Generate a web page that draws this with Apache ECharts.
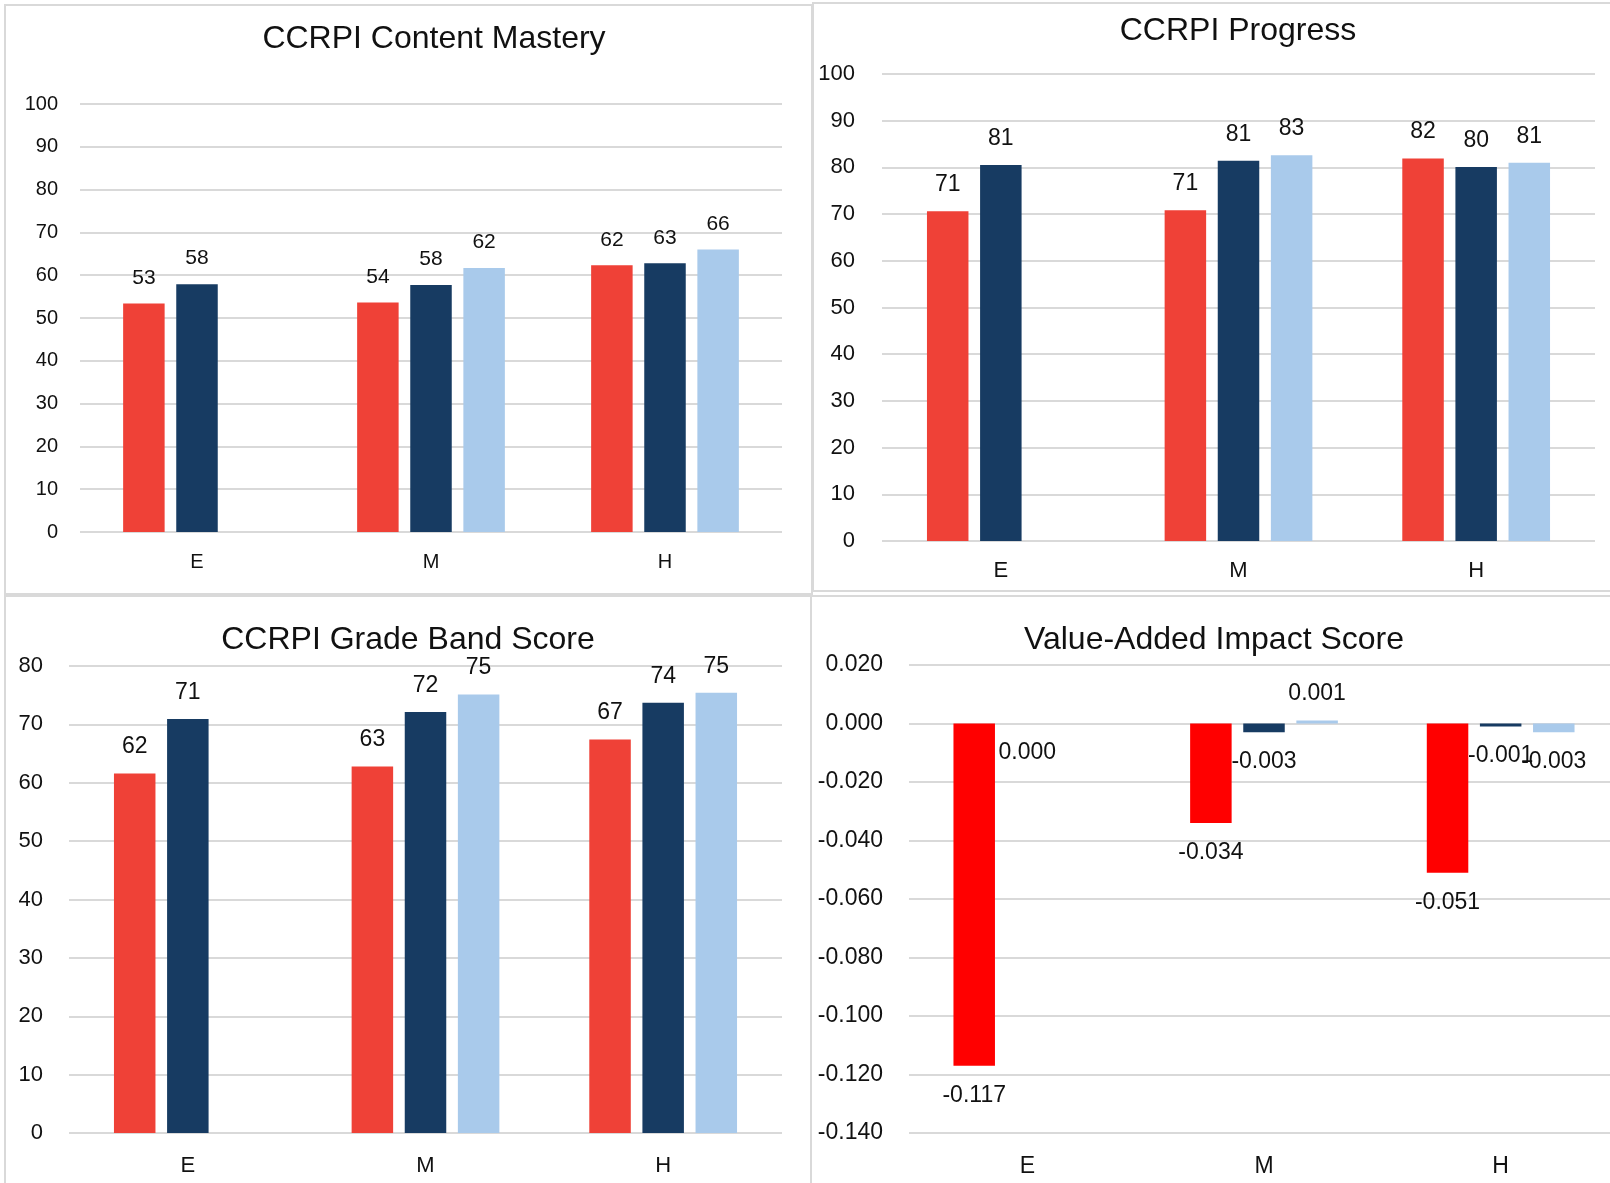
<!DOCTYPE html>
<html>
<head>
<meta charset="utf-8">
<script src="https://cdn.jsdelivr.net/npm/echarts@6/dist/echarts.min.js"></script>
<style>
  html, body { margin: 0; padding: 0; background: #fff; }
  #chart { width: 1610px; height: 1183px; }
</style>
</head>
<body>
<div id="chart"></div>
<script>
// categories shared by all four panels
const categories = ['E', 'M', 'H']

// CCRPI Content Mastery
const masteryRed = [53.4, 53.6, 62.3]
const masteryNavy = [57.9, 57.7, 62.8]
const masteryLight = [null, 61.7, 66.0]

// CCRPI Progress
const progressRed = [70.6, 70.8, 81.9]
const progressNavy = [80.5, 81.4, 80.1]
const progressLight = [null, 82.6, 81.0]

// CCRPI Grade Band Score
const gradeRed = [61.6, 62.8, 67.4]
const gradeNavy = [70.9, 72.1, 73.7]
const gradeLight = [null, 75.1, 75.4]

// Value-Added Impact Score
const vaRed = [-0.117, -0.034, -0.051]
const vaNavy = [0.000, -0.003, -0.001]
const vaLight = [null, 0.001, -0.003]

const FONT = '"Liberation Sans", Arial, sans-serif'
const RED = '#EF4137'
const NAVY = '#173B62'
const LIGHT = '#A9CAEB'
const GRID_COLOR = '#D9D9D9'
const TEXT = '#111111'

const chart = echarts.init(document.getElementById('chart'))

// panel layout (pixels)
const grids = [
  { left: 80, top: 104, width: 702, height: 428 },
  { left: 882, top: 74, width: 713, height: 467 },
  { left: 69, top: 666, width: 713, height: 467 },
  { left: 909, top: 665, width: 710, height: 468 }
].map(g => ({ ...g, containLabel: false, outerBoundsMode: 'none' }))

const axisFont = [20, 22, 22, 23]
const yMargins = [22, 27, 26, 26]
const xMargins = [20, 19, 22, 22]

const xAxes = grids.map((g, i) => ({
  type: 'category',
  gridIndex: i,
  data: categories,
  axisLine: { show: false, onZero: false },
  axisTick: { show: false },
  axisLabel: { color: TEXT, fontSize: axisFont[i], fontFamily: FONT, margin: xMargins[i] }
}))

const yRanges = [
  { min: 0, max: 100, interval: 10 },
  { min: 0, max: 100, interval: 10 },
  { min: 0, max: 80, interval: 10 },
  { min: -0.14, max: 0.02, interval: 0.02 }
]

const yAxes = yRanges.map((r, i) => ({
  type: 'value',
  gridIndex: i,
  min: r.min,
  max: r.max,
  interval: r.interval,
  axisLine: { show: false },
  axisTick: { show: false },
  axisLabel: {
    color: TEXT,
    fontSize: axisFont[i],
    fontFamily: FONT,
    margin: yMargins[i],
    formatter: i === 3 ? (v) => v.toFixed(3) : (v) => String(v)
  },
  splitLine: { lineStyle: { color: GRID_COLOR, width: 2 } }
}))

const makeBar = (data, color, idx, isVA) => ({
  type: 'bar',
  xAxisIndex: idx,
  yAxisIndex: idx,
  data: data.map(v => {
    if (v === null) return null
    if (!isVA) return v
    return {
      value: v,
      label: v > 0 ? { position: 'top', distance: 15 } : { position: 'bottom', distance: 18 }
    }
  }),
  barWidth: 41.5,
  barGap: '28%',
  itemStyle: { color },
  label: {
    show: true,
    position: 'top',
    distance: 15,
    color: TEXT,
    fontSize: isVA ? 23 : axisFont[idx] + 1,
    fontFamily: FONT,
    formatter: (p) => isVA ? Number(p.value).toFixed(3) : Math.round(p.value)
  }
})

const series = [
  makeBar(masteryRed, RED, 0), makeBar(masteryNavy, NAVY, 0), makeBar(masteryLight, LIGHT, 0),
  makeBar(progressRed, RED, 1), makeBar(progressNavy, NAVY, 1), makeBar(progressLight, LIGHT, 1),
  makeBar(gradeRed, RED, 2), makeBar(gradeNavy, NAVY, 2), makeBar(gradeLight, LIGHT, 2),
  makeBar(vaRed, '#FF0000', 3, true), makeBar(vaNavy, NAVY, 3, true), makeBar(vaLight, LIGHT, 3, true)
]

// panel frames and titles
const frames = [
  { x: 5, y: 5, width: 807, height: 589 },
  { x: 813, y: 3, width: 800, height: 588 },
  { x: 5, y: 596, width: 806, height: 600 },
  { x: 811, y: 596, width: 802, height: 600 }
]
const titles = [
  { text: 'CCRPI Content Mastery', x: 434, y: 39 },
  { text: 'CCRPI Progress', x: 1238, y: 31 },
  { text: 'CCRPI Grade Band Score', x: 408, y: 640 },
  { text: 'Value-Added Impact Score', x: 1214, y: 640 }
]

const graphic = [
  ...frames.map(f => ({
    type: 'rect',
    shape: f,
    style: { fill: 'none', stroke: GRID_COLOR, lineWidth: 2 },
    silent: true
  })),
  ...titles.map(t => ({
    type: 'text',
    x: t.x,
    y: t.y,
    style: {
      text: t.text,
      fill: TEXT,
      font: '32px ' + FONT,
      textAlign: 'center',
      textVerticalAlign: 'middle'
    },
    silent: true
  }))
]

chart.setOption({
  animation: false,
  backgroundColor: '#ffffff',
  grid: grids,
  xAxis: xAxes,
  yAxis: yAxes,
  series,
  graphic
})

window.addEventListener('resize', () => chart.resize())
</script>
</body>
</html>
